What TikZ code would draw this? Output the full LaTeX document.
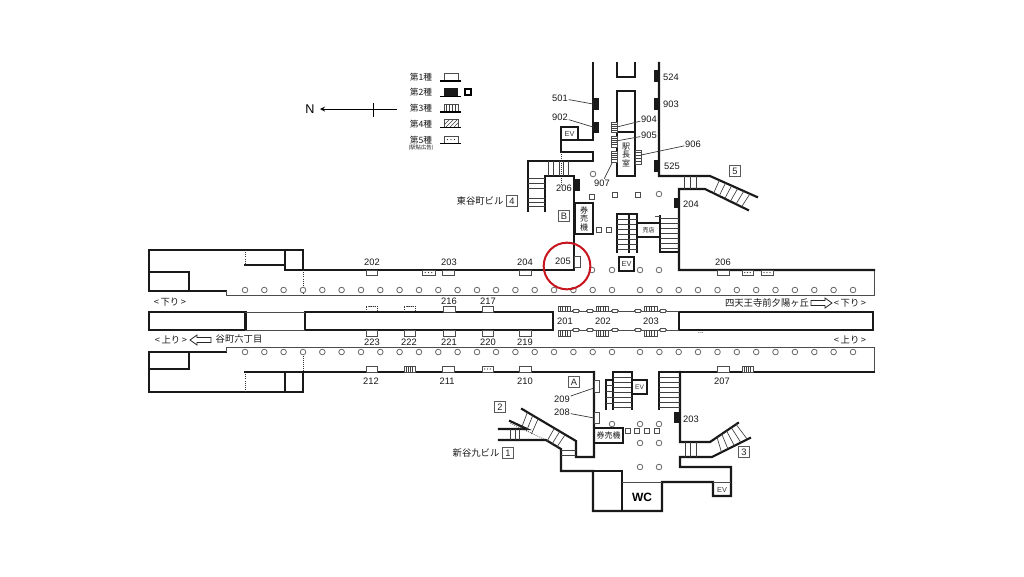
\documentclass[tikz,border=0pt]{standalone}
\usepackage{fontspec}
\setmainfont{Liberation Sans}
\newfontfamily\cjk{Noto Sans CJK JP}
\usetikzlibrary{calc}

\tikzset{
  wall/.style={line width=1.6pt,line cap=rect,line join=miter,color=black!90},
  thinwall/.style={line width=0.7pt,color=black!70},
  tread/.style={line width=0.5pt,color=black!75},
  leader/.style={line width=0.5pt,color=black!80},
  dotwall/.style={line width=0.6pt,densely dotted,color=black!80},
  postring/.style={draw=black!60,line width=0.6pt,circle,inner sep=0pt,minimum size=4.2pt},
  kiosk/.style={draw=black!70,line width=0.5pt},
  numlabel/.style={inner sep=0.5pt,font=\fontsize{7}{8}\selectfont,text=black!90},
  jplabel/.style={inner sep=0.5pt,font=\cjk\fontsize{7}{8}\selectfont,text=black!90},
  tinylabel/.style={inner sep=0pt,align=center,font=\cjk\fontsize{6}{6.4}\selectfont,text=black!90},
  exitbox/.style={draw=black!65,line width=0.6pt,inner sep=0pt,minimum size=8.2pt,font=\fontsize{7}{8}\selectfont,text=black!85},
  evlabel/.style={inner sep=0pt,font=\fontsize{5}{6}\selectfont,text=black!80}
}
% advertising frames: x1,y1,x2,y2
\newcommand{\frameA}[4]{\draw [kiosk,fill=white] (#1,#2) rectangle (#3,#4);}
\newcommand{\frameB}[4]{\fill [black!90] (#1,#2) rectangle (#3,#4);}
\newcommand{\frameC}[4]{%
  \draw [kiosk,fill=white] (#1,#2) rectangle (#3,#4);
  \foreach \t in {0.2,0.4,0.6,0.8} \draw [tread] ($(#1,#2)!\t!(#3,#2)$) -- ($(#1,#4)!\t!(#3,#4)$);}
\newcommand{\frameE}[4]{%
  \draw [kiosk,fill=white] (#1,#2) rectangle (#3,#4);
  \foreach \t in {0.25,0.5,0.75} \fill [black!80] ($($(#1,#2)!0.5!(#1,#4)$)!\t!($(#3,#2)!0.5!(#3,#4)$)$) circle (0.45pt);}
% same, hatched the other way round for the vertical ones
\newcommand{\frameS}[4]{%
  \draw [kiosk,fill=white] (#1,#2) rectangle (#3,#4);
  \foreach \t in {0.2,0.4,0.6,0.8} \draw [tread] ($(#1,#2)!\t!(#1,#4)$) -- ($(#3,#2)!\t!(#3,#4)$);}

\begin{document}
\begin{tikzpicture}[x=0.75pt,y=0.75pt,yscale=-1,xscale=1]
\useasboundingbox (0,0) rectangle (1024,576);
\fill [white] (0,0) rectangle (1024,576);

%Legend
\coordinate (northtail) at (397,109);
\coordinate (northtip) at (320,109);
\coordinate (ticktop) at (373,103);
\coordinate (tickbot) at (373,117);
\draw (310,109) node (lblN) [inner sep=0pt,font=\fontsize{9.5}{10}\selectfont] {N};
\draw [line width=0.7pt,-stealth] (northtail) -- (northtip);
\draw [line width=0.7pt] (ticktop) -- (tickbot);
\foreach \nm/\py/\tx in {a/77/第1種,b/92/第2種,c/108/第3種,d/124/第4種,e/140/第5種}
  \node [tinylabel,font=\cjk\fontsize{6.5}{7}\selectfont] (leg\nm) at (421,\py) {\tx};
\node [tinylabel,font=\cjk\fontsize{4}{5}\selectfont] (legf) at (421,148) {(駅貼広告)};
\frameA{444}{73}{458}{81}
\frameB{444}{88}{458}{96}
\frameC{444}{104}{458}{112}
\draw [kiosk] (444,119) rectangle (458,127);
\begin{scope}
\clip (444,119) rectangle (458,127);
\foreach \k in {438,442,...,458} \draw [tread] (\k,127) -- (\k+8,119);
\end{scope}
\frameE{444}{136}{458}{143}
\foreach \k in {81,96.5,112,127.5,143.5} \draw [line width=0.9pt] (440,\k) -- (461,\k);
\draw [line width=1.7pt] (465,89) rectangle (471,95);

%Upper platform wall
\draw [wall] (303,270) -- (303,250) -- (149,250) -- (149,291) -- (226,291);
\draw [wall] (149,272) -- (189,272) -- (189,291);
\draw [wall] (245,265) -- (285,265);
\draw [wall] (285,250) -- (285,270) -- (303,270) -- (574,270) -- (574,176) -- (545,176) -- (545,211);
\draw [dotwall] (245,250) -- (245,265);
\draw [dotwall] (303,270) -- (303,295);
\draw [thinwall] (226,291) -- (226,295) -- (874,295) -- (874,270);
\draw [wall] (874,270) -- (679,270) -- (679,189) -- (705,189) -- (748,210);
\draw [wall] (659,63) -- (659,176) -- (710,176) -- (757,197);

%Middle platform blocks
\draw [wall] (149,312) rectangle (245.5,330);
\draw [wall] (305,312) rectangle (553,330);
\draw [wall] (679,312) rectangle (873,330);
\draw [thinwall] (245,312) -- (305,312) (245,330) -- (305,330);
\draw [thinwall] (571,311) -- (679,311) (571,330) -- (679,330);

%Lower platform wall
\draw [wall] (226,352) -- (149,352) -- (149,392) -- (303,392) -- (303,372);
\draw [wall] (149,369) -- (189,369) -- (189,352);
\draw [wall] (245,372) -- (594,372);
\draw [wall] (285,372) -- (285,392);
\draw [dotwall] (245,372) -- (245,392);
\draw [dotwall] (303,347) -- (303,372);
\draw [thinwall] (226,352) -- (226,347) -- (874,347) -- (874,372);
\draw [wall] (874,372) -- (659,372) -- (659,409);
\draw [wall] (680,372) -- (680,442) -- (710,442) -- (738,423);
\draw [wall] (750,438) -- (712,457) -- (680,457) -- (680,467) -- (731,467) -- (731,496) -- (713,496) -- (713,482) -- (662,482) -- (662,511) -- (593,511) -- (593,471) -- (561,471) -- (561,449) -- (546,440) -- (499,440);

%North concourse
\draw [wall] (593,63) -- (593,140) -- (561,140) -- (561,152) -- (593,152) -- (593,161) -- (528,161) -- (528,211);
\draw [wall] (561,140) -- (561,127) -- (578,127) -- (578,140);
\draw [wall] (617,63) -- (617,77) -- (635,77) -- (635,63);
\draw [wall] (617,91) rectangle (635,176);
\draw [wall] (617,132) -- (635,132);
\draw [dotwall] (561,152) -- (561,186);

%South concourse
\draw [wall] (594,372) -- (594,457) -- (576,457) -- (576,441) -- (522,409);
\draw [wall] (499,429) -- (527,429) -- (510,421);
\draw [dotwall] (546,440) -- (510,423);
\draw [wall] (622,471) -- (622,511);
\draw [wall] (593,471) -- (622,471);
\draw [thinwall] (622,482) -- (662,482) (713,482) -- (731,482);

%Stairs, north side
\foreach \k in {548,553,559,563,568} \draw [tread] (\k,161) -- (\k,176);
\foreach \k in {178,183,188,198,202,206} \draw [tread] (528,\k) -- (545,\k);
\foreach \k in {684,690,696} \draw [tread] (\k,176) -- (\k,189);
\coordinate (fiveua) at (710,176);
\coordinate (fiveub) at (757,197);
\coordinate (fivela) at (705,189);
\coordinate (fivelb) at (748,210);
\foreach \t in {0.2,0.33,0.46,0.59,0.72,0.85}
  \draw [tread] ($(fiveua)!\t!(fiveub)$) -- ($(fivela)!\t!(fivelb)$);

%Stairs, centre north
\draw [wall] (617,252) -- (617,214) -- (637,214) -- (637,252);
\draw [wall] (629,214) -- (629,252);
\foreach \k in {219,224,229,234,239,244,249} \draw [tread] (617,\k) -- (637,\k);
\draw [wall] (660,216) -- (660,252) -- (679,252);
\draw [thinwall] (655,216) -- (660,216);
\foreach \k in {218,223,228,233,238,243,248} \draw [tread] (660,\k) -- (679,\k);
\draw [wall] (637,223) rectangle (660,237);
\draw (648.5,230) node (lblshop) [tinylabel,font=\cjk\fontsize{4.5}{5}\selectfont] {売店};
\draw [wall] (619,257) rectangle (634,271);
\draw (626.5,264) node (lblevb) [evlabel,font=\fontsize{5.5}{6}\selectfont] {EV};
\draw (569.5,134) node (lblevc) [evlabel,font=\fontsize{5.5}{6}\selectfont] {EV};
\draw [wall] (575,203) rectangle (593,234);
\draw (584,218.5) node (lbltica) [tinylabel] {券\\売\\機};

%Station office
\draw (626,155) node (lbloffice) [tinylabel] {駅\\長\\室};
\frameS{611}{122}{617}{132}
\frameS{611}{136}{617}{147}
\frameS{611}{151}{617}{162}
\frameS{635}{150}{641}{164}

%Stairs, south side
\draw [wall] (606,409) -- (606,380) -- (613,380);
\draw [wall] (613,372) -- (613,409);
\draw [wall] (632,372) -- (632,409);
\draw [wall] (613,372) -- (632,372);
\foreach \k in {377,382,387,392,397,402,407} \draw [tread] (613,\k) -- (632,\k);
\foreach \k in {385,391,397,403} \draw [tread] (606,\k) -- (613,\k);
\draw [wall,fill=white] (632,380) rectangle (647,394);
\draw (639.5,387) node (lblevd) [evlabel] {EV};
\foreach \k in {377,382,387,392,397,402,407} \draw [tread] (659,\k) -- (680,\k);
\draw [wall] (594,428) rectangle (623,443);
\draw (608.5,435.5) node (lblticb) [tinylabel] {券売機};
\foreach \k in {450,455} \draw [tread] (561,\k) -- (576,\k);
\foreach \k in {510,515,519} \draw [tread] (\k,429) -- (\k,440);
\coordinate (oneua) at (522,409);
\coordinate (oneub) at (576,441);
\coordinate (onela) at (510,423);
\coordinate (onelb) at (561,449);
\foreach \t in {0.1,0.2,0.3,0.6,0.7,0.8}
  \draw [tread] ($(oneua)!\t!(oneub)$) -- ($(onela)!\t+0.12!(onelb)$);
\foreach \k in {685,690,696} \draw [tread] (\k,442) -- (\k,457);
\coordinate (threeua) at (710,442);
\coordinate (threeub) at (738,423);
\coordinate (threela) at (712,457);
\coordinate (threelb) at (750,438);
\foreach \t in {0.25,0.42,0.59,0.76,0.93}
  \draw [tread] ($(threeua)!\t!(threeub)$) -- ($(threela)!\t!(threelb)$);
\draw (722,489.5) node (lbleve) [evlabel,font=\fontsize{5.5}{6}\selectfont] {EV};
\draw (642,497) node (lblwc) [inner sep=0pt,font=\bfseries\fontsize{9}{10}\selectfont] {WC};

%Posts
\foreach \k in {245,264.3,283.6,303,322.3,341.6,361,380.3,399.6,419,438.3,457.6,477,496,515.4,534.7,554,573.4,592.7,612,640,659.4,678.7,698,717.5,736.8,756.2,775.5,794.9,814.3,833.6,853}
  {\node [postring,fill=white] (pu\k) at (\k,290) {};
   \node [postring,fill=white] (pl\k) at (\k,352) {};}
\foreach \nm/\px/\py in {a/592/270,b/612/270,c/640/270,d/659/270,e/593/174,f/659/194,g/612/424,h/640/424,i/659/424,j/640/443,k/659/443,l/640/467,m/659/467}
  \node [postring] (post\nm) at (\px,\py) {};

%Frames along the walls
\foreach \xa/\xb in {366/377,442/454,519/531,717/729} \frameA{\xa}{270}{\xb}{275}
\foreach \xa/\xb in {422/435,742/753,761/773} \frameE{\xa}{270}{\xb}{275}
\foreach \xa/\xb in {443/455,482/493} \frameA{\xa}{306}{\xb}{312}
\foreach \xa/\xb in {366/377,404/415} \draw [dotwall,line width=0.4pt] (\xa,312) -- (\xa,306) -- (\xb,306) -- (\xb,312);
\foreach \xa/\xb in {366/377,404/415,443/455,482/493,519/531} \frameA{\xa}{330}{\xb}{336}
\foreach \xa/\xb in {366/377,442/454,519/531,717/729} \frameA{\xa}{366}{\xb}{372}
\foreach \xa/\xb in {404/415,742/753} \frameC{\xa}{366}{\xb}{372}
\frameE{482}{366}{493}{372}
\foreach \xa/\xb in {558/570,596/608,644/657} {\frameC{\xa}{306}{\xb}{311}\frameC{\xa}{330}{\xb}{336}}
\foreach \k in {576,590,615,638,663} {
  \draw [kiosk,fill=white,rounded corners=0.8pt] (\k-3,309.5) rectangle (\k+3,312.5);
  \draw [kiosk,fill=white,rounded corners=0.8pt] (\k-3,328.5) rectangle (\k+3,331.5);}
\frameB{654}{70}{660}{82}
\frameB{654}{98}{660}{110}
\frameB{654}{160}{660}{172}
\frameB{593}{98}{599}{110}
\frameB{593}{122}{599}{133}
\frameB{574}{179}{580}{191}
\frameB{674}{198}{679}{208}
\frameB{674}{412}{680}{423}
\frameA{574}{256}{580}{267}
\frameA{594}{380}{599}{392}
\frameA{594}{412}{599}{423}
\foreach \xa/\ya in {592/197,615/195,638/195,599/230,609/230,628/431,637/431,647/431,657/431}
  \draw [kiosk] (\xa-2.5,\ya-2.5) rectangle (\xa+2.5,\ya+2.5);
\draw (701,333) node (lbldots) [inner sep=0pt,font=\fontsize{5}{5}\selectfont] {...};

%Frame numbers
\foreach \nm/\px/\py/\tx in {a/372/262/202,b/449/262/203,c/525/262/204,d/563/261/205,e/723/262/206,f/449/301/216,g/488/301/217,h/372/342/223,i/409/342/222,j/449/342/221,k/488/342/220,l/525/342/219,m/371/381/212,n/447/381/211,o/525/381/210,p/722/381/207,q/565/321/201,r/603/321/202,s/651/321/203,t/671/77/524,u/671/104/903,v/672/166/525,w/564/188/206,x/691/204/204,y/691/419/203}
  \node [numlabel] (num\nm) at (\px,\py) {\tx};

%Leader lines
\draw (560,98) node (lbl501) [numlabel] {501};
\draw (560,117) node (lbl902) [numlabel] {902};
\draw (649,119) node (lbl904) [numlabel] {904};
\draw (649,135) node (lbl905) [numlabel] {905};
\draw (693,144) node (lbl906) [numlabel] {906};
\draw (602,183) node (lbl907) [numlabel] {907};
\draw (562,399) node (lbl209) [numlabel] {209};
\draw (562,412) node (lbl208) [numlabel] {208};
\coordinate (tip501) at (593,104);
\coordinate (tip902) at (593,127);
\coordinate (tip904) at (617,127);
\coordinate (tip905) at (616,141);
\coordinate (tip906) at (641,155);
\coordinate (tip907) at (612,163);
\coordinate (tip209) at (594,388);
\coordinate (tip208) at (594,418);
\foreach \nm in {501,902,904,905,906,907,209,208}
  \draw [leader] (lbl\nm) -- (tip\nm);

%Station names
\draw (480,201) node (lblbuildb) [jplabel] {東谷町ビル};
\draw (476,453) node (lblbuilda) [jplabel] {新谷九ビル};
\draw (239,339) node (lbltani) [jplabel] {谷町六丁目};
\draw (767,303) node (lblshiten) [jplabel] {四天王寺前夕陽ヶ丘};
\draw (170,302) node (lblnwa) [jplabel] {<\,下り\,>};
\draw (171,340) node (lblupa) [jplabel] {<\,上り\,>};
\draw (850,303) node (lblnwb) [jplabel] {<\,下り\,>};
\draw (850,340) node (lblupb) [jplabel] {<\,上り\,>};
\draw [line width=0.6pt,color=black!85] (811,300.5) -- (825,300.5) -- (825,298) -- (832,303) -- (825,308) -- (825,305.5) -- (811,305.5) -- cycle;
\draw [line width=0.6pt,color=black!85] (211,337.5) -- (197,337.5) -- (197,335) -- (190,340) -- (197,345) -- (197,342.5) -- (211,342.5) -- cycle;

%Exit boxes
\foreach \nm/\px/\py/\tx in {a/564/216/B,b/574/382/A,c/512/201/4,d/735/171/5,e/508/453/1,f/500/407/2,g/744/452/3}
  \node [exitbox] (exit\nm) at (\px,\py) {\tx};

%Red ring
\draw (567,266) node (ring) [circle,draw={rgb, 255:red, 200; green, 20; blue, 30},line width=1.5pt,minimum size=35pt,inner sep=0pt] {};
\end{tikzpicture}
\end{document}
